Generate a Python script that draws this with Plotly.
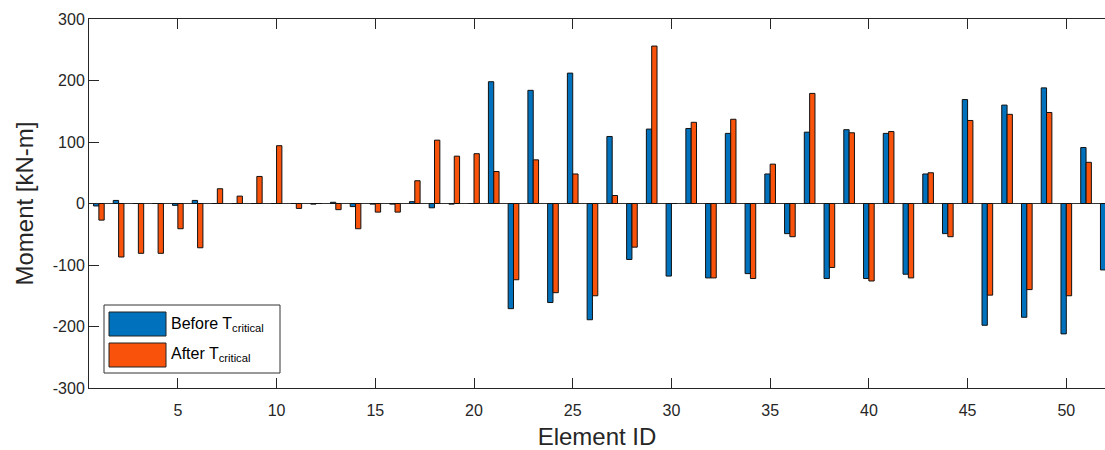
import plotly.graph_objects as go

elements = list(range(1, 53))
before = [-4, 5, 0, 0, -3, 5, 0, 0, 0, 0,
          0, -1, 2, -5, -1, -1, 3, -7, -1, 0,
          198, -171, 184, -161, 212, -189, 109, -91, 121, -118,
          122, -121, 114, -114, 48, -49, 116, -122, 120, -122,
          114, -115, 48, -49, 169, -198, 160, -185, 188, -212,
          91, -108]
after = [-27, -87, -81, -81, -41, -72, 24, 12, 44, 94,
         -8, 0, -10, -41, -14, -14, 37, 103, 77, 81,
         52, -124, 71, -145, 48, -150, 13, -71, 256, 0,
         132, -121, 137, -122, 64, -54, 179, -104, 115, -126,
         117, -121, 50, -54, 135, -149, 145, -140, 148, -150,
         67, 0]
series_names = ["Before T<sub>critical</sub>", "After T<sub>critical</sub>"]
y_ticks = [-300, -200, -100, 0, 100, 200, 300]
y_tick_labels = ["-300", "-200", "-100", "0", "100", "200", "300"]
x_ticks = [5, 10, 15, 20, 25, 30, 35, 40, 45, 50]

BLUE = "#0072BD"
ORANGE = "#F9520B"
TXT = "#262626"
FONT = "Liberation Sans, Arial, sans-serif"

W, H = 1105, 450
L, R, T, B = 89, 1105, 19, 388

fig = go.Figure()
fig.add_trace(go.Bar(x=elements, y=before, name=series_names[0],
                     marker=dict(color=BLUE, line=dict(color="#111111", width=1))))
fig.add_trace(go.Bar(x=elements, y=after, name=series_names[1],
                     marker=dict(color=ORANGE, line=dict(color="#111111", width=1))))

# helpers: page pixel -> paper coordinate
def px_x(p):
    return (p - L) / (R - L)

def px_y(p):
    return (B - p) / (B - T)

shapes = [
    dict(type="rect", xref="paper", yref="paper", x0=px_x(104), x1=px_x(280),
         y0=px_y(373), y1=px_y(305), line=dict(color="#333333", width=1),
         fillcolor="white", layer="above"),
    dict(type="rect", xref="paper", yref="paper", x0=px_x(109), x1=px_x(166),
         y0=px_y(336), y1=px_y(312), line=dict(color="#222222", width=1),
         fillcolor=BLUE, layer="above"),
    dict(type="rect", xref="paper", yref="paper", x0=px_x(109), x1=px_x(166),
         y0=px_y(367), y1=px_y(343), line=dict(color="#222222", width=1),
         fillcolor=ORANGE, layer="above"),
]
annotations = [
    dict(xref="paper", yref="paper", x=px_x(169), y=px_y(324), xanchor="left",
         yanchor="middle", text=series_names[0], showarrow=False,
         font=dict(family=FONT, size=16, color="#000000")),
    dict(xref="paper", yref="paper", x=px_x(169), y=px_y(354), xanchor="left",
         yanchor="middle", text=series_names[1], showarrow=False,
         font=dict(family=FONT, size=16, color="#000000")),
]

fig.update_layout(
    width=W, height=H,
    margin=dict(l=L, r=W - R, t=T, b=H - B, autoexpand=False),
    paper_bgcolor="white", plot_bgcolor="white",
    barmode="group", bargap=0.46, bargroupgap=0,
    showlegend=False,
    font=dict(family=FONT, color=TXT),
    shapes=shapes, annotations=annotations,
)
fig.update_xaxes(
    range=[0.5, 51.96], tickvals=x_ticks, ticks="inside", ticklen=10,
    tickcolor=TXT, showline=True, linecolor=TXT, linewidth=1, mirror="ticks",
    showgrid=False, zeroline=False, tickfont=dict(size=16, color=TXT),
    ticklabelstandoff=8, automargin=False,
    title=dict(text="Element ID", font=dict(size=24, color=TXT), standoff=14),
)
fig.update_yaxes(
    range=[-300, 300], tickvals=y_ticks, ticktext=y_tick_labels,
    ticks="inside", ticklen=10,
    tickcolor=TXT, showline=True, linecolor=TXT, linewidth=1, mirror=False,
    showgrid=False, zeroline=True, zerolinecolor="#333333", zerolinewidth=1,
    tickfont=dict(size=16, color=TXT), automargin=False,
    title=dict(text="Moment [kN-m]", font=dict(size=24, color=TXT), standoff=12),
)

fig.write_html(
    "out.html",
    config={"displayModeBar": False},
    post_script="document.body.style.margin='0';document.body.style.overflow='hidden';",
)
